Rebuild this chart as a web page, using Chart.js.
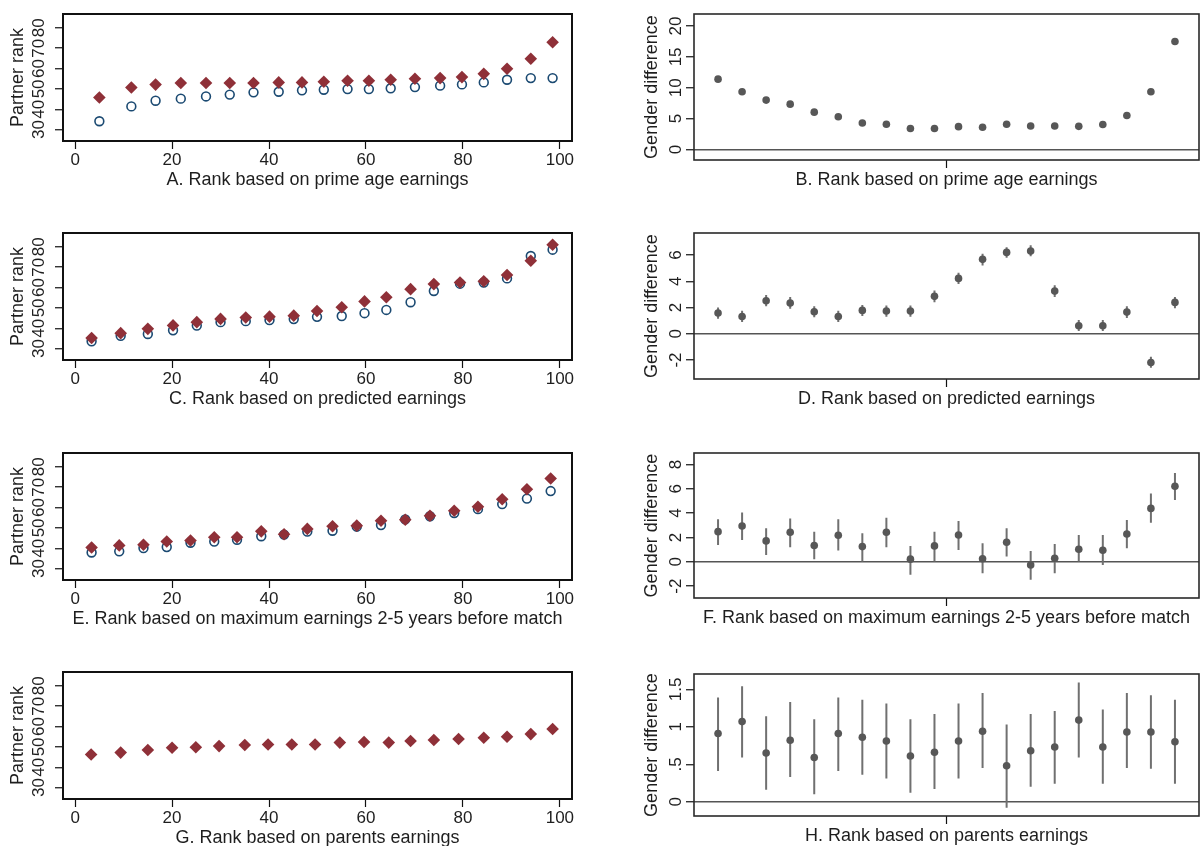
<!DOCTYPE html>
<html>
<head>
<meta charset="utf-8">
<script src="https://cdn.jsdelivr.net/npm/chart.js@4.4.1/dist/chart.umd.min.js"></script>
<style>
  html, body { margin: 0; padding: 0; background: #fff; }
  #figure { position: relative; width: 1203px; height: 846px; overflow: hidden; background: #fff; }
  #figure canvas { position: absolute; }
</style>
</head>
<body>
<div id="figure"></div>
<script>
// ---- data: left column (partner rank by own rank) ----
const aX = [5.0, 11.6, 16.6, 21.8, 27.0, 31.9, 36.8, 42.0, 46.8, 51.3, 56.2, 60.6, 65.1, 70.1, 75.3, 79.8, 84.3, 89.1, 94.0, 98.5];
const aDiamonds = [45.8, 50.7, 52.1, 52.9, 52.9, 52.9, 52.9, 53.2, 53.2, 53.5, 54.0, 54.0, 54.5, 55.0, 55.3, 55.8, 57.4, 59.9, 64.8, 72.9];
const aCircles = [34.1, 41.4, 44.2, 45.2, 46.3, 47.2, 48.3, 48.6, 49.3, 49.6, 49.9, 49.9, 50.3, 50.9, 51.6, 52.2, 53.2, 54.5, 55.3, 55.3];

const cX = [3.4, 9.4, 15.0, 20.2, 25.1, 30.0, 35.2, 40.1, 45.1, 49.9, 55.0, 59.7, 64.2, 69.2, 74.0, 79.4, 84.3, 89.1, 94.0, 98.5];
const cDiamonds = [35.2, 37.6, 39.7, 41.4, 43.0, 44.6, 45.3, 45.7, 46.2, 48.5, 50.3, 53.2, 55.2, 59.2, 61.7, 62.5, 63.1, 66.2, 73.2, 81.0];
const cCircles = [33.6, 36.3, 37.2, 39.0, 41.3, 43.0, 43.5, 44.0, 44.5, 45.6, 46.0, 47.4, 49.0, 52.8, 58.3, 61.9, 62.5, 64.5, 75.5, 78.6];

const eX = [3.4, 9.1, 14.1, 18.9, 23.8, 28.7, 33.4, 38.4, 43.1, 47.9, 53.1, 58.1, 63.1, 68.1, 73.2, 78.2, 83.1, 88.1, 93.2, 98.1];
const eDiamonds = [40.4, 41.4, 41.7, 43.3, 43.8, 45.4, 45.4, 48.3, 46.9, 49.5, 50.8, 51.1, 53.5, 54.0, 56.0, 58.4, 60.4, 64.1, 69.0, 74.3];
const eCircles = [37.9, 38.5, 40.1, 40.6, 42.7, 43.3, 44.2, 45.9, 46.7, 48.2, 48.6, 50.6, 51.4, 54.2, 55.7, 57.3, 59.2, 61.7, 64.4, 68.1];

const gX = [3.3, 9.4, 15.0, 20.0, 24.9, 29.7, 35.0, 39.8, 44.7, 49.5, 54.6, 59.6, 64.7, 69.2, 74.0, 79.1, 84.3, 89.1, 94.0, 98.5];
const gDiamonds = [46.3, 47.2, 48.5, 49.6, 49.8, 50.4, 50.9, 51.2, 51.2, 51.2, 52.1, 52.4, 52.1, 52.9, 53.4, 53.9, 54.5, 55.0, 56.3, 58.8];

// ---- data: right column (gender difference by group) ----
const groups = [1, 2, 3, 4, 5, 6, 7, 8, 9, 10, 11, 12, 13, 14, 15, 16, 17, 18, 19, 20];

const bDiff = [11.4, 9.35, 8.0, 7.35, 6.05, 5.3, 4.3, 4.1, 3.4, 3.4, 3.7, 3.6, 4.1, 3.8, 3.8, 3.75, 4.05, 5.5, 9.35, 17.5];

const dDiff = [1.58, 1.32, 2.52, 2.34, 1.68, 1.32, 1.78, 1.73, 1.73, 2.85, 4.22, 5.67, 6.2, 6.3, 3.25, 0.61, 0.61, 1.65, -2.19, 2.39];
const dLow = [1.15, 0.9, 2.1, 1.9, 1.25, 0.9, 1.35, 1.3, 1.3, 2.4, 3.8, 5.2, 5.8, 5.9, 2.8, 0.2, 0.2, 1.2, -2.6, 1.95];
const dHigh = [2.0, 1.75, 2.95, 2.8, 2.1, 1.75, 2.2, 2.15, 2.15, 3.3, 4.65, 6.1, 6.6, 6.75, 3.7, 1.05, 1.05, 2.1, -1.75, 2.8];

const fDiff = [2.48, 2.94, 1.72, 2.43, 1.34, 2.18, 1.25, 2.43, 0.22, 1.31, 2.21, 0.25, 1.61, -0.25, 0.30, 1.04, 0.95, 2.29, 4.39, 6.21];
const fLow = [1.39, 1.80, 0.57, 1.20, 0.22, 0.93, 0.03, 1.20, -1.06, 0.03, 0.98, -0.93, 0.44, -1.47, -0.93, 0.03, -0.25, 1.12, 3.22, 5.07];
const fHigh = [3.49, 4.06, 2.75, 3.57, 2.48, 3.49, 2.34, 3.62, 1.31, 2.48, 3.35, 1.53, 2.75, 0.90, 1.47, 2.21, 2.21, 3.43, 5.61, 7.30];

const hDiff = [0.91, 1.07, 0.65, 0.82, 0.59, 0.91, 0.86, 0.81, 0.61, 0.66, 0.81, 0.94, 0.48, 0.68, 0.73, 1.09, 0.73, 0.93, 0.93, 0.80];
const hLow = [0.41, 0.59, 0.16, 0.33, 0.10, 0.41, 0.36, 0.31, 0.12, 0.17, 0.31, 0.45, -0.08, 0.20, 0.24, 0.59, 0.24, 0.45, 0.44, 0.24];
const hHigh = [1.39, 1.54, 1.14, 1.33, 1.10, 1.39, 1.36, 1.31, 1.10, 1.17, 1.31, 1.45, 1.03, 1.17, 1.21, 1.59, 1.23, 1.45, 1.42, 1.36];

// ---- tick values / labels ----
const rankTicks = [0, 20, 40, 60, 80, 100];
const rankTickLabels = ['0', '20', '40', '60', '80', '100'];
const partnerTicks = [30, 40, 50, 60, 70, 80];
const partnerTickLabels = ['30', '40', '50', '60', '70', '80'];
const bTicks = [0, 5, 10, 15, 20];
const bTickLabels = ['0', '5', '10', '15', '20'];
const dTicks = [-2, 0, 2, 4, 6];
const dTickLabels = ['-2', '0', '2', '4', '6'];
const fTicks = [-2, 0, 2, 4, 6, 8];
const fTickLabels = ['-2', '0', '2', '4', '6', '8'];
const hTicks = [0, 0.5, 1, 1.5];
const hTickLabels = ['0', '.5', '1', '1.5'];

// ---- styling ----
const FONT = '"Liberation Sans", Arial, sans-serif';
const TEXT = '#1e1e1e';
const TICK_SIZE = 17;
const TITLE_SIZE = 18;
const MAROON = '#8f3038';
const NAVY = '#1b4a72';
const DOT = '#575757';
const BAR = '#707070';

Chart.defaults.font.family = FONT;
Chart.defaults.color = TEXT;

const measureCtx = document.createElement('canvas').getContext('2d');
function widest(labels) {
  measureCtx.font = TICK_SIZE + 'px ' + FONT;
  return Math.max(...labels.map(t => measureCtx.measureText(t).width));
}

// closed frame around the plot region (Stata style)
const framePlugin = {
  id: 'frame',
  afterDraw(chart, args, opts) {
    const { ctx, chartArea: a } = chart;
    ctx.save();
    ctx.strokeStyle = opts.color;
    ctx.lineWidth = opts.width;
    ctx.strokeRect(a.left, a.top, a.right - a.left, a.bottom - a.top);
    ctx.restore();
  }
};

function makeCanvas(left, top, width, height) {
  const c = document.createElement('canvas');
  c.width = width;
  c.height = height;
  c.style.left = left + 'px';
  c.style.top = top + 'px';
  c.style.width = width + 'px';
  c.style.height = height + 'px';
  document.getElementById('figure').appendChild(c);
  return c;
}

// labelCenter / titleCenter: x of the text centre, measured from the axis' left edge
function yAxis(o) {
  const labelW = widest(o.labels);
  return {
    type: 'linear',
    min: o.min,
    max: o.max,
    afterBuildTicks: s => { s.ticks = o.ticks.map(v => ({ value: v })); },
    afterFit: s => { s.width = o.width; s.paddingTop = 0; s.paddingBottom = 0; },
    ticks: {
      autoSkip: false,
      minRotation: 90,
      maxRotation: 90,
      crossAlign: 'center',
      padding: o.width - 8 - o.labelCenter - labelW / 2,
      font: { size: TICK_SIZE },
      color: TEXT,
      callback: (v, i) => o.labels[i]
    },
    grid: {
      drawOnChartArea: !!o.zeroLine,
      drawTicks: true,
      tickLength: 8,
      tickWidth: 1.2,
      tickColor: '#111',
      lineWidth: 1.5,
      color: c => (o.zeroLine && c.tick && c.tick.value === 0) ? '#555' : 'rgba(0,0,0,0)'
    },
    border: { display: false },
    title: {
      display: true,
      text: o.title,
      color: TEXT,
      font: { size: TITLE_SIZE, lineHeight: 1.2 },
      padding: { top: o.titleCenter - TITLE_SIZE * 0.6, bottom: 0 }
    }
  };
}

// labelCenter / titleCenter: y of the text centre, measured from the plot bottom
function xAxis(o) {
  return {
    type: 'linear',
    min: o.min,
    max: o.max,
    offset: false,
    afterBuildTicks: s => { s.ticks = o.ticks.map(v => ({ value: v })); },
    afterFit: s => { s.height = o.height; s.paddingLeft = 0; s.paddingRight = 0; },
    ticks: {
      autoSkip: false,
      minRotation: 0,
      maxRotation: 0,
      padding: o.labelCenter - 8 - TICK_SIZE * 0.6,
      font: { size: TICK_SIZE },
      color: TEXT,
      callback: (v, i) => o.labels[i]
    },
    grid: { drawOnChartArea: false, drawTicks: true, tickLength: 8, tickWidth: 1.2, tickColor: '#111' },
    border: { display: false },
    title: {
      display: true,
      text: o.title,
      color: TEXT,
      font: { size: TITLE_SIZE, lineHeight: 1.2 },
      padding: { top: 0, bottom: o.height - o.titleCenter - TITLE_SIZE * 0.6 }
    }
  };
}

function baseOptions(padding, frame, scales) {
  return {
    responsive: false,
    animation: false,
    events: [],
    layout: { padding },
    plugins: { legend: { display: false }, tooltip: { enabled: false }, frame },
    scales
  };
}

function leftPanel(p) {
  const canvas = makeCanvas(0, p.boxTop - 14, 590, 14 + p.boxH + 60);
  const datasets = [{
    data: p.x.map((x, i) => ({ x, y: p.diamonds[i] })),
    pointStyle: 'rectRot',
    pointRadius: 6.3,
    backgroundColor: MAROON,
    borderColor: MAROON,
    borderWidth: 0
  }];
  if (p.circles) {
    datasets.push({
      data: p.x.map((x, i) => ({ x, y: p.circles[i] })),
      pointStyle: 'circle',
      pointRadius: 4.4,
      backgroundColor: 'rgba(0,0,0,0)',
      borderColor: NAVY,
      borderWidth: 1.6
    });
  }
  new Chart(canvas, {
    type: 'scatter',
    data: { datasets },
    options: baseOptions(
      { top: 14, right: 18, left: 0, bottom: 0 },
      { color: '#111', width: 2 },
      {
        x: xAxis({ min: -2.5, max: 102.5, ticks: rankTicks, labels: rankTickLabels, title: p.title, height: 60, labelCenter: 19, titleCenter: 39.5 }),
        y: yAxis({ min: 24.4, max: 86.8, ticks: partnerTicks, labels: partnerTickLabels, title: 'Partner rank', width: 63, labelCenter: 39, titleCenter: 18 })
      }
    ),
    plugins: [framePlugin]
  });
}

function rightPanel(p) {
  const canvas = makeCanvas(620, p.boxTop - 14, 583, 14 + p.boxH + 40);
  const datasets = [{
    type: 'scatter',
    data: groups.map((x, i) => ({ x, y: p.diff[i] })),
    pointStyle: 'circle',
    pointRadius: 3.8,
    backgroundColor: DOT,
    borderWidth: 0
  }];
  if (p.low) {
    datasets.push({
      type: 'line',
      data: groups.flatMap((x, i) => [{ x, y: p.low[i] }, { x, y: p.high[i] }, { x, y: null }]),
      borderColor: BAR,
      borderWidth: 2,
      pointRadius: 0,
      spanGaps: false,
      fill: false
    });
  }
  new Chart(canvas, {
    type: 'scatter',
    data: { datasets },
    options: baseOptions(
      { top: 14, right: 1, left: 0, bottom: 0 },
      { color: '#2a2a2a', width: 1.6 },
      {
        x: xAxis({ min: 0, max: 21, ticks: [10.5], labels: [''], title: p.title, height: 40, labelCenter: 19, titleCenter: 20.5 }),
        y: yAxis({ min: p.min, max: p.max, ticks: p.ticks, labels: p.labels, title: 'Gender difference', width: 74, labelCenter: 56, titleCenter: 32, zeroLine: true })
      }
    ),
    plugins: [framePlugin]
  });
}

leftPanel({ boxTop: 14, boxH: 127, x: aX, diamonds: aDiamonds, circles: aCircles, title: 'A. Rank based on prime age earnings' });
leftPanel({ boxTop: 233, boxH: 127, x: cX, diamonds: cDiamonds, circles: cCircles, title: 'C. Rank based on predicted earnings' });
leftPanel({ boxTop: 453, boxH: 127, x: eX, diamonds: eDiamonds, circles: eCircles, title: 'E. Rank based on maximum earnings 2-5 years before match' });
leftPanel({ boxTop: 672, boxH: 127, x: gX, diamonds: gDiamonds, circles: null, title: 'G. Rank based on parents earnings' });

rightPanel({ boxTop: 14, boxH: 146, diff: bDiff, min: -1.7, max: 21.95, ticks: bTicks, labels: bTickLabels, title: 'B. Rank based on prime age earnings' });
rightPanel({ boxTop: 233, boxH: 146, diff: dDiff, low: dLow, high: dHigh, min: -3.45, max: 7.68, ticks: dTicks, labels: dTickLabels, title: 'D. Rank based on predicted earnings' });
rightPanel({ boxTop: 453, boxH: 145, diff: fDiff, low: fLow, high: fHigh, min: -2.97, max: 8.94, ticks: fTicks, labels: fTickLabels, title: 'F. Rank based on maximum earnings 2-5 years before match' });
rightPanel({ boxTop: 674, boxH: 142, diff: hDiff, low: hLow, high: hHigh, min: -0.19, max: 1.705, ticks: hTicks, labels: hTickLabels, title: 'H. Rank based on parents earnings' });
</script>
</body>
</html>
